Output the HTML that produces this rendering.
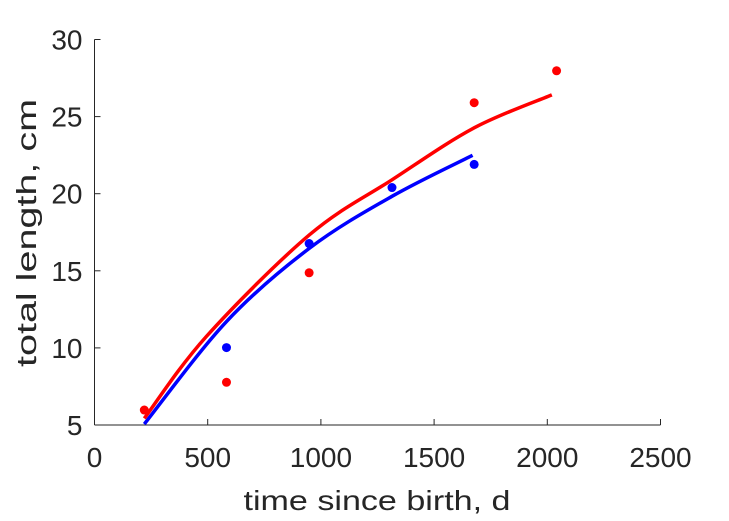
<!DOCTYPE html>
<html><head><meta charset="utf-8"><style>
html,body{margin:0;padding:0;background:#fff;}
svg{display:block;font-family:"Liberation Sans",Arial,sans-serif;}
</style></head><body>
<svg id="chart" width="729" height="521" viewBox="0 0 729 521" xmlns="http://www.w3.org/2000/svg">
<g id="axes"></g>
<g id="marks"></g>
<text x="377" y="510" font-size="28" fill="#262626" text-anchor="middle" textLength="267" lengthAdjust="spacingAndGlyphs">time since birth, d</text>
<text x="0" y="0" font-size="28" fill="#262626" text-anchor="middle" transform="translate(36,233) rotate(-90)" textLength="268" lengthAdjust="spacingAndGlyphs">total length, cm</text>
</svg>
<script>
const xTicks = [0, 500, 1000, 1500, 2000, 2500];
const yTicks = [5, 10, 15, 20, 25, 30];
const redPointsX = [220, 583, 948, 1677, 2041];
const redPointsY = [5.97, 7.77, 14.87, 25.9, 27.97];
const bluePointsX = [583, 948, 1314, 1677];
const bluePointsY = [10.02, 16.77, 20.4, 21.9];
const redCurveX = [220, 494, 950, 1314, 1677, 2020];
const redCurveY = [5.43, 10.74, 17.34, 20.9, 24.27, 26.41];
const blueCurveX = [220, 583, 950, 1314, 1670];
const blueCurveY = [5.06, 11.71, 16.47, 19.83, 22.49];

const NS = "http://www.w3.org/2000/svg";
const X0 = 94.5, X1 = 660.5, Y0 = 425, Y1 = 39.5;
function sx(v){ return X0 + (v - 0) / 2500 * (X1 - X0); }
function sy(v){ return Y0 - (v - 5) / 25 * (Y0 - Y1); }
function mk(tag, attrs, parent){
  const e = document.createElementNS(NS, tag);
  for (const k in attrs) e.setAttribute(k, attrs[k]);
  parent.appendChild(e); return e;
}
const axes = document.getElementById('axes');
const marks = document.getElementById('marks');
const xl = mk('line', {x1:X0, y1:Y0, x2:X1, y2:Y0, stroke:'#262626', 'stroke-width':1}, axes);


const yl = mk('line', {x1:X0, y1:Y0, x2:X0, y2:Y1, stroke:'#262626', 'stroke-width':1}, axes);


xTicks.forEach(t => {
  const tk = mk('line', {x1:sx(t), y1:Y0, x2:sx(t), y2:Y0-6, stroke:'#262626'}, axes);
  
  
  const lb = mk('text', {x:sx(t), y:467, 'font-size':28, fill:'#262626', 'text-anchor':'middle'}, axes);
  
  
  lb.textContent = t;
});
yTicks.forEach(t => {
  const tk = mk('line', {x1:X0, y1:sy(t), x2:X0+6, y2:sy(t), stroke:'#262626'}, axes);
  
  
  const lb = mk('text', {x:X0-12, y:sy(t)+10, 'font-size':28, fill:'#262626', 'text-anchor':'end'}, axes);
  
  
  lb.textContent = t;
});
function curvePath(xs, ys){
  const p = xs.map((x,i)=>[sx(x), sy(ys[i])]);
  let d = 'M' + p[0][0] + ',' + p[0][1];
  for (let i=0;i<p.length-1;i++){
    const a = p[Math.max(i-1,0)], b = p[i], c = p[i+1], e = p[Math.min(i+2,p.length-1)];
    const c1 = [b[0]+(c[0]-a[0])/6, b[1]+(c[1]-a[1])/6];
    const c2 = [c[0]-(e[0]-b[0])/6, c[1]-(e[1]-b[1])/6];
    d += ' C'+c1[0]+','+c1[1]+' '+c2[0]+','+c2[1]+' '+c[0]+','+c[1];
  }
  return d;
}
const bc = mk('path', {d:curvePath(blueCurveX, blueCurveY), fill:'none', stroke:'#0000ff', 'stroke-width':3.5}, marks);


const rc = mk('path', {d:curvePath(redCurveX, redCurveY), fill:'none', stroke:'#ff0000', 'stroke-width':3.5}, marks);


redPointsX.forEach((x,i) => {
  const c = mk('circle', {cx:sx(x), cy:sy(redPointsY[i]), r:4.5, fill:'#ff0000'}, marks);
  
  
});
bluePointsX.forEach((x,i) => {
  const c = mk('circle', {cx:sx(x), cy:sy(bluePointsY[i]), r:4.5, fill:'#0000ff'}, marks);
  
  
});
</script>
</body></html>
